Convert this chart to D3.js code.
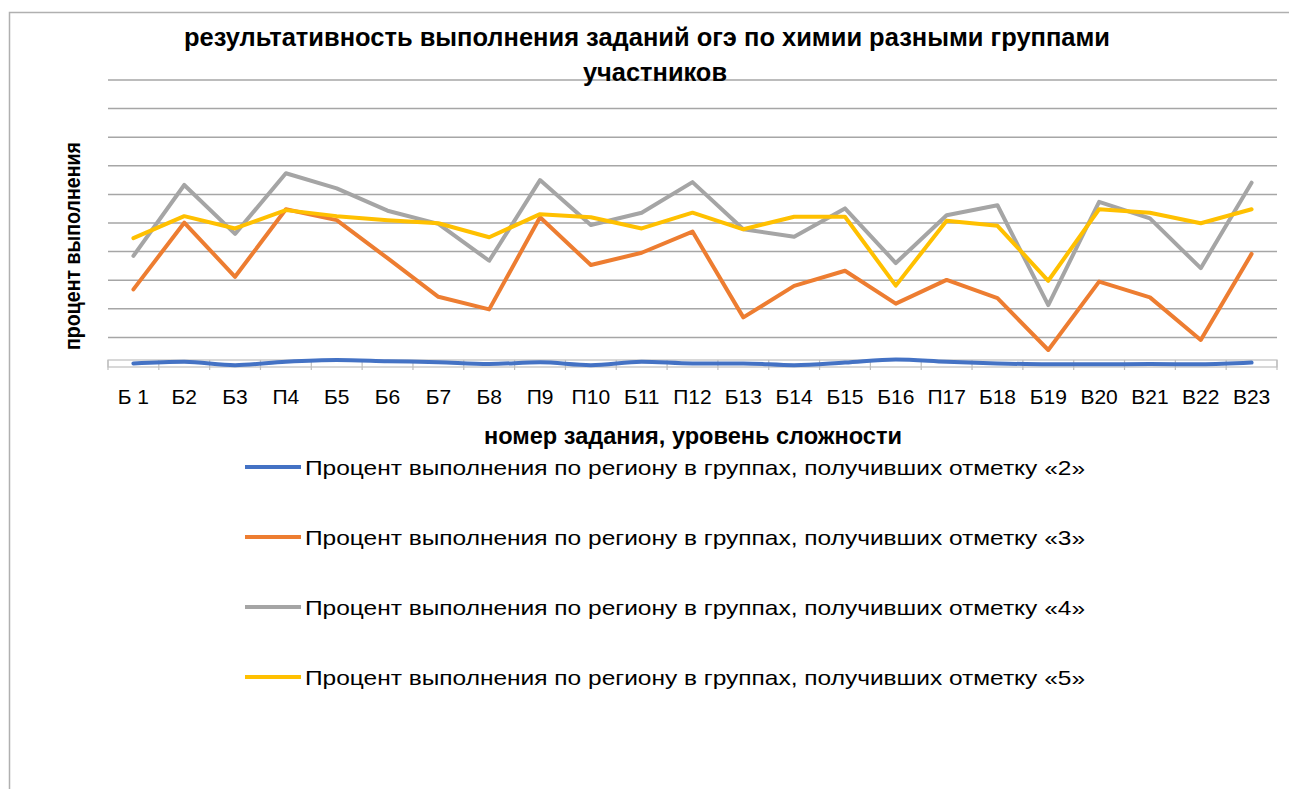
<!DOCTYPE html>
<html>
<head>
<meta charset="utf-8">
<script src="https://cdn.jsdelivr.net/npm/d3@7"></script>
<style>
  body { margin: 0; background: #fff; }
  text { font-family: "Liberation Sans Narrow", "Liberation Sans", Arial, sans-serif; fill: #000; }
</style>
</head>
<body>
<svg id="chart" width="1289" height="789"></svg>
<script>
// task labels on the x axis
const tasks = ["Б 1","Б2","Б3","П4","Б5","Б6","Б7","Б8","П9","П10","Б11","П12",
               "Б13","Б14","Б15","Б16","П17","Б18","Б19","В20","В21","В22","В23"];

// percent of completion
const grade2 = [0.9,1.5,0.3,1.5,2.1,1.7,1.3,0.7,1.3,0.3,1.5,0.9,0.9,0.3,1.2,2.3,1.5,0.9,0.6,0.6,0.7,0.6,1.2];
const grade3 = [26.8,50.1,31.2,54.8,51.0,37.7,24.2,19.8,52.0,35.3,39.6,47.0,17.0,28.0,33.3,21.8,30.1,23.7,5.6,29.5,24.0,9.1,39.2];
const grade4 = [38.5,63.3,46.2,67.4,62.1,54.3,49.7,36.8,65.0,49.3,53.6,64.3,47.8,45.2,55.1,36.0,52.7,56.2,21.3,57.4,51.6,34.2,64.1];
const grade5 = [44.7,52.4,48.1,54.5,52.4,51.0,49.9,45.0,53.1,52.0,48.1,53.6,47.8,52.2,52.2,28.1,50.8,49.0,29.8,54.8,53.6,49.9,54.8];

const seriesNames = [
  "Процент выполнения по региону в группах, получивших отметку «2»",
  "Процент выполнения по региону в группах, получивших отметку «3»",
  "Процент выполнения по региону в группах, получивших отметку «4»",
  "Процент выполнения по региону в группах, получивших отметку «5»"
];
const colors = ["#4472C4", "#ED7D31", "#A5A5A5", "#FFC000"];
const yTicks = [10,20,30,40,50,60,70,80,90,100];

const series = [grade2, grade3, grade4, grade5].map((vals, i) => ({
  name: seriesNames[i],
  color: colors[i],
  values: vals
}));

const svg = d3.select("#chart");

// frame (cut off on the right and bottom in the source)
svg.append("path")
  .attr("d", "M9.5,789 V12.5 H1289")
  .attr("fill", "none")
  .attr("stroke", "#b0b0b0")
  .attr("stroke-width", 1.5);

const x = d3.scaleBand().domain(tasks).range([108, 1277]);
const y = d3.scaleLinear().domain([0, 100]).range([366, 80]);

// gridlines
svg.append("g")
  .selectAll("line")
  .data(yTicks)
  .join("line")
  .attr("x1", 108).attr("x2", 1277)
  .attr("y1", d => y(d)).attr("y2", d => y(d))
  .attr("stroke", "#a6a6a6")
  .attr("stroke-width", 1.5);

// x axis band with tick marks
const axisG = svg.append("g");
axisG.append("rect")
  .attr("x", 108).attr("y", y(0) - 6)
  .attr("width", 1169).attr("height", 7)
  .attr("fill", "none")
  .attr("stroke", "#bfbfbf")
  .attr("stroke-width", 1.2);
axisG.selectAll("line.tick")
  .data(tasks.concat(["end"]))
  .join("line")
  .attr("class", "tick")
  .attr("x1", (d, i) => i < tasks.length ? x(d) : x.range()[1])
  .attr("x2", (d, i) => i < tasks.length ? x(d) : x.range()[1])
  .attr("y1", y(0) - 6).attr("y2", y(0) + 4)
  .attr("stroke", "#bfbfbf")
  .attr("stroke-width", 1.2);

// x tick labels
svg.append("g")
  .selectAll("text")
  .data(tasks)
  .join("text")
  .attr("x", d => x(d) + x.bandwidth() / 2)
  .attr("y", 404)
  .attr("text-anchor", "middle")
  .attr("font-size", 21)
  .text(d => d);

// lines
const line = d3.line()
  .x((d, i) => x(tasks[i]) + x.bandwidth() / 2)
  .y(d => y(d));

svg.append("g")
  .selectAll("path")
  .data(series)
  .join("path")
  .attr("fill", "none")
  .attr("stroke", d => d.color)
  .attr("stroke-width", 4)
  .attr("stroke-linejoin", "round")
  .attr("stroke-linecap", "round")
  .attr("d", d => line.curve(d.color === "#4472C4" ? d3.curveMonotoneX : d3.curveLinear)(d.values));

// title
svg.append("text")
  .attr("x", 647).attr("y", 46)
  .attr("text-anchor", "middle")
  .attr("font-size", 26).attr("font-weight", "bold")
  .attr("textLength", 926).attr("lengthAdjust", "spacingAndGlyphs")
  .text("результативность выполнения заданий огэ по химии разными группами");
svg.append("text")
  .attr("x", 655).attr("y", 81)
  .attr("text-anchor", "middle")
  .attr("font-size", 26).attr("font-weight", "bold")
  .attr("textLength", 144).attr("lengthAdjust", "spacingAndGlyphs")
  .text("участников");

// y axis title
svg.append("text")
  .attr("transform", "translate(80,246) rotate(-90)")
  .attr("text-anchor", "middle")
  .attr("font-size", 22).attr("font-weight", "bold")
  .style("font-family", "'Liberation Sans', Arial, sans-serif")
  .attr("textLength", 208).attr("lengthAdjust", "spacingAndGlyphs")
  .text("процент выполнения");

// x axis title
svg.append("text")
  .attr("x", 693).attr("y", 444)
  .attr("text-anchor", "middle")
  .attr("font-size", 23).attr("font-weight", "bold")
  .attr("textLength", 418).attr("lengthAdjust", "spacingAndGlyphs")
  .text("номер задания, уровень сложности");

// legend
const legend = svg.append("g")
  .selectAll("g")
  .data(series)
  .join("g")
  .attr("transform", (d, i) => `translate(245,${467 + i * 70})`);
legend.append("line")
  .attr("x1", 0).attr("x2", 56)
  .attr("stroke", d => d.color)
  .attr("stroke-width", 4);
legend.append("text")
  .attr("x", 60).attr("y", 8)
  .attr("font-size", 21)
  .attr("textLength", 780).attr("lengthAdjust", "spacingAndGlyphs")
  .text(d => d.name);
</script>
</body>
</html>
